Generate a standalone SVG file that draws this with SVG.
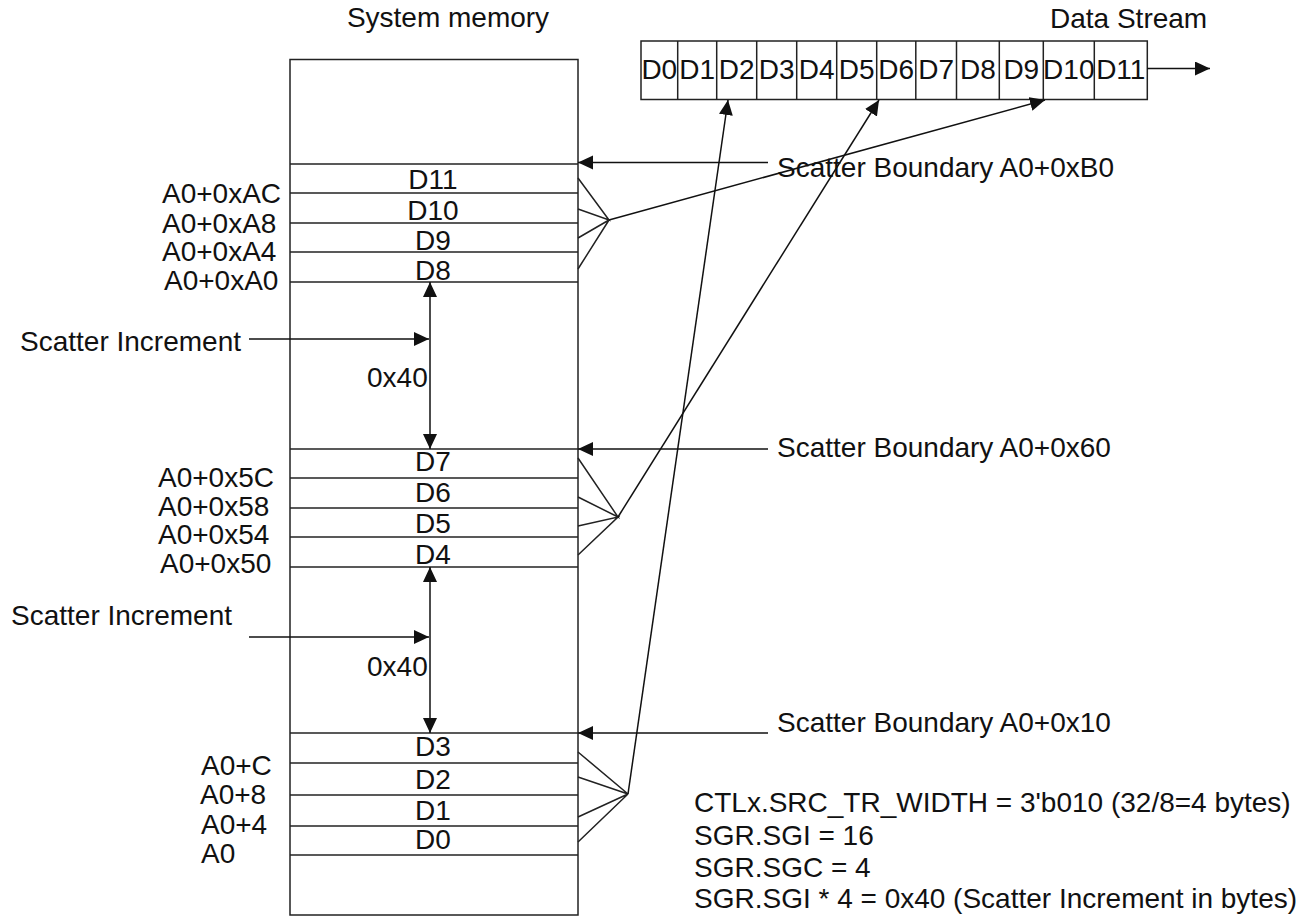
<svg xmlns="http://www.w3.org/2000/svg" width="1308" height="920" viewBox="0 0 1308 920">
<style>
.t{font-family:"Liberation Sans",Arial,Helvetica,sans-serif;font-size:28px;fill:#111}
.c{text-anchor:middle}
.box{fill:#fff;stroke:#222;stroke-width:1.5}
.ln{stroke:#222;stroke-width:1.5;fill:none}
.ar{stroke:#111;stroke-width:1.5;fill:none;marker-end:url(#ah)}
.ar2{stroke:#111;stroke-width:1.5;fill:none;marker-end:url(#ah);marker-start:url(#ahs)}
</style>
<defs>
<marker id="ah" markerUnits="userSpaceOnUse" markerWidth="16" markerHeight="16" refX="15" refY="7" orient="auto">
<path d="M0,0 L15,7 L0,14 z" fill="#111"/>
</marker>
<marker id="ahs" markerUnits="userSpaceOnUse" markerWidth="16" markerHeight="16" refX="0" refY="7" orient="auto">
<path d="M15,0 L0,7 L15,14 z" fill="#111"/>
</marker>
</defs>
<rect width="1308" height="920" fill="#fff"/>

<g id="system-memory">
<text class="t c" x="448" y="27">System memory</text>
<rect class="box" x="290" y="59.5" width="288" height="855.5"/>
<g class="ln">
<line x1="290" y1="164" x2="578" y2="164"/>
<line x1="290" y1="193" x2="578" y2="193"/>
<line x1="290" y1="223" x2="578" y2="223"/>
<line x1="290" y1="252" x2="578" y2="252"/>
<line x1="290" y1="282" x2="578" y2="282"/>
<line x1="290" y1="449" x2="578" y2="449"/>
<line x1="290" y1="478" x2="578" y2="478"/>
<line x1="290" y1="508" x2="578" y2="508"/>
<line x1="290" y1="537" x2="578" y2="537"/>
<line x1="290" y1="567" x2="578" y2="567"/>
<line x1="290" y1="733" x2="578" y2="733"/>
<line x1="290" y1="763" x2="578" y2="763"/>
<line x1="290" y1="795" x2="578" y2="795"/>
<line x1="290" y1="826" x2="578" y2="826"/>
<line x1="290" y1="855" x2="578" y2="855"/>
</g>
<text class="t c" x="433" y="189">D11</text>
<text class="t c" x="433" y="220">D10</text>
<text class="t c" x="433" y="250">D9</text>
<text class="t c" x="433" y="280">D8</text>
<text class="t c" x="433" y="471">D7</text>
<text class="t c" x="433" y="502">D6</text>
<text class="t c" x="433" y="533">D5</text>
<text class="t c" x="433" y="564">D4</text>
<text class="t c" x="433" y="756">D3</text>
<text class="t c" x="433" y="789">D2</text>
<text class="t c" x="433" y="820">D1</text>
<text class="t c" x="433" y="849">D0</text>
</g>

<g id="address-labels">
<text class="t" x="162" y="203">A0+0xAC</text>
<text class="t" x="162" y="233">A0+0xA8</text>
<text class="t" x="162" y="261">A0+0xA4</text>
<text class="t" x="164" y="290">A0+0xA0</text>
<text class="t" x="158" y="487">A0+0x5C</text>
<text class="t" x="158" y="516">A0+0x58</text>
<text class="t" x="158" y="544">A0+0x54</text>
<text class="t" x="160" y="573">A0+0x50</text>
<text class="t" x="201" y="775">A0+C</text>
<text class="t" x="200" y="804">A0+8</text>
<text class="t" x="201" y="834">A0+4</text>
<text class="t" x="201" y="863">A0</text>
</g>

<g id="data-stream">
<text class="t" x="1050" y="28">Data Stream</text>
<rect class="box" x="641" y="41" width="506.3" height="58.5"/>
<g class="ln">
<line x1="677.7" y1="41" x2="677.7" y2="99.5"/>
<line x1="716.7" y1="41" x2="716.7" y2="99.5"/>
<line x1="756.7" y1="41" x2="756.7" y2="99.5"/>
<line x1="796.7" y1="41" x2="796.7" y2="99.5"/>
<line x1="836.7" y1="41" x2="836.7" y2="99.5"/>
<line x1="876.7" y1="41" x2="876.7" y2="99.5"/>
<line x1="915.8" y1="41" x2="915.8" y2="99.5"/>
<line x1="956.5" y1="41" x2="956.5" y2="99.5"/>
<line x1="999.3" y1="41" x2="999.3" y2="99.5"/>
<line x1="1043.3" y1="41" x2="1043.3" y2="99.5"/>
<line x1="1094.3" y1="41" x2="1094.3" y2="99.5"/>
</g>
<text class="t c" x="659.3" y="79">D0</text>
<text class="t c" x="697.2" y="79">D1</text>
<text class="t c" x="736.7" y="79">D2</text>
<text class="t c" x="776.7" y="79">D3</text>
<text class="t c" x="816.7" y="79">D4</text>
<text class="t c" x="856.7" y="79">D5</text>
<text class="t c" x="896.2" y="79">D6</text>
<text class="t c" x="936.1" y="79">D7</text>
<text class="t c" x="977.9" y="79">D8</text>
<text class="t c" x="1021.3" y="79">D9</text>
<text class="t c" x="1068.8" y="79">D10</text>
<text class="t c" x="1120.8" y="79">D11</text>
</g>

<g id="boundary-labels">
<text class="t" x="777" y="177">Scatter Boundary A0+0xB0</text>
<text class="t" x="777" y="457">Scatter Boundary A0+0x60</text>
<text class="t" x="777" y="732">Scatter Boundary A0+0x10</text>
</g>

<g id="increment-labels">
<text class="t" x="20" y="351">Scatter Increment</text>
<text class="t" x="11" y="625">Scatter Increment</text>
<text class="t" x="367" y="387">0x40</text>
<text class="t" x="367" y="676">0x40</text>
</g>

<g id="notes">
<text class="t" x="694" y="812">CTLx.SRC_TR_WIDTH = 3'b010 (32/8=4 bytes)</text>
<text class="t" x="694" y="845">SGR.SGI = 16</text>
<text class="t" x="694" y="877">SGR.SGC = 4</text>
<text class="t" x="694" y="908">SGR.SGI * 4 = 0x40 (Scatter Increment in bytes)</text>
</g>

<g id="connectors">
<line class="ar" x1="1147" y1="68.5" x2="1210" y2="68.5"/>
<line class="ar" x1="768" y1="162.5" x2="578" y2="162.5"/>
<line class="ar" x1="768" y1="449" x2="578" y2="449"/>
<line class="ar" x1="768" y1="733" x2="578" y2="733"/>
<line class="ar2" x1="430" y1="282" x2="430" y2="449"/>
<line class="ar2" x1="430" y1="567" x2="430" y2="733"/>
<line class="ar" x1="249" y1="339" x2="429" y2="339"/>
<line class="ar" x1="249" y1="637" x2="429" y2="637"/>
<g class="ln">
<polyline points="578,178 609,220 578,209"/>
<polyline points="578,238 609,220 578,269"/>
<polyline points="578,458 618,517 578,497"/>
<polyline points="578,526 618,517 578,555"/>
<polyline points="578,752 628,794 578,777"/>
<polyline points="578,817 628,794 578,842"/>
</g>
<line class="ar" x1="609" y1="220" x2="1045" y2="100"/>
<line class="ar" x1="618" y1="517" x2="879" y2="100"/>
<line class="ar" x1="628" y1="794" x2="728" y2="100"/>
</g>
</svg>
